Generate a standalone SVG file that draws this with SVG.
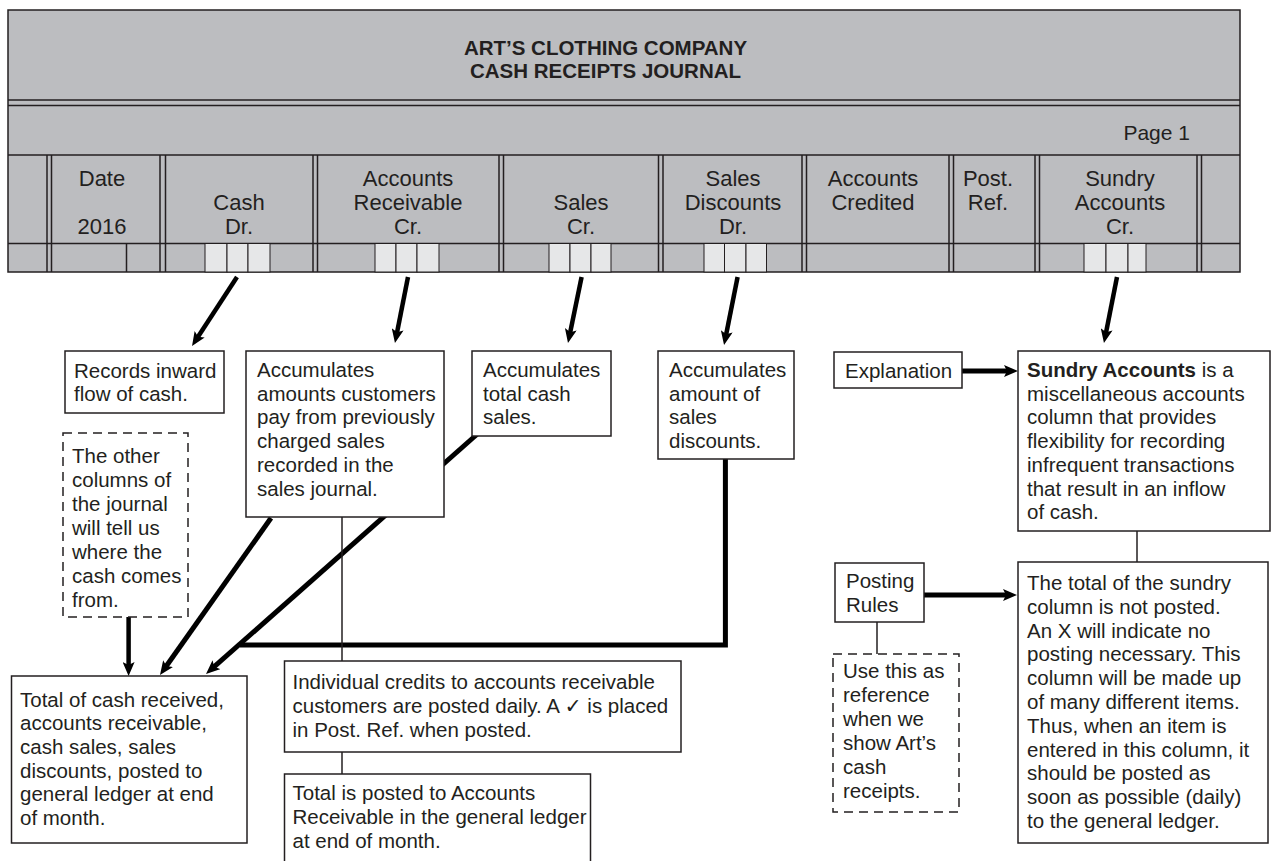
<svg xmlns="http://www.w3.org/2000/svg" width="1278" height="861" viewBox="0 0 1278 861">
<style>
text{font-family:"Liberation Sans",Arial,sans-serif;fill:#231f20}
.t{font-size:20.5px}
.h{font-size:22px;text-anchor:middle}
.ttl{font-size:20.5px;font-weight:bold;text-anchor:middle}
.box{fill:#fff;stroke:#231f20;stroke-width:1.5}
.dash{fill:#fff;stroke:#231f20;stroke-width:1.5;stroke-dasharray:9 6}
.hl{stroke:#231f20;stroke-width:1.5;fill:none}
.cell{fill:#e6e7e8;stroke:#231f20;stroke-width:1}
.arr{stroke:#000;stroke-width:4.5;fill:none;marker-end:url(#ah)}
.thick{stroke:#000;stroke-width:5;fill:none}
.thin{stroke:#231f20;stroke-width:1.5;fill:none}
</style>
<defs>
<marker id="ah" viewBox="0 0 14 12" markerWidth="14" markerHeight="12" refX="6" refY="6" orient="auto" markerUnits="userSpaceOnUse">
<path d="M0,0 L14,6 L0,12 L3,6 Z" fill="#000"/>
</marker>
</defs>
<rect width="1278" height="861" fill="#fff"/>

<g id="journal-header">
<rect x="8" y="10" width="1232" height="262" fill="#bcbdc0" stroke="#231f20" stroke-width="1.5"/>
<text class="ttl" x="605.5" y="55">ART’S CLOTHING COMPANY</text>
<text class="ttl" x="605.5" y="78">CASH RECEIPTS JOURNAL</text>
<path class="hl" d="M8,100H1240M8,105.5H1240M8,155H1240M8,243.5H1240"/>
<text class="t" x="1190" y="140" style="font-size:21px;text-anchor:end">Page 1</text>
<path class="hl" d="M47,155V272M51.5,155V272M160,155V272M165.5,155V272M313,155V272M317.5,155V272M499,155V272M503.5,155V272M658.5,155V272M663,155V272M802,155V272M806.5,155V272M949,155V272M953.5,155V272M1035,155V272M1039.5,155V272M1197,155V272M1201.5,155V272M126.5,243.5V272"/>
<text class="h" x="102" y="186">Date</text>
<text class="h" x="102" y="234">2016</text>
<text class="h" x="239" y="210">Cash</text>
<text class="h" x="239" y="234">Dr.</text>
<text class="h" x="408" y="186">Accounts</text>
<text class="h" x="408" y="210">Receivable</text>
<text class="h" x="408" y="234">Cr.</text>
<text class="h" x="581" y="210">Sales</text>
<text class="h" x="581" y="234">Cr.</text>
<text class="h" x="733" y="186">Sales</text>
<text class="h" x="733" y="210">Discounts</text>
<text class="h" x="733" y="234">Dr.</text>
<text class="h" x="873" y="186">Accounts</text>
<text class="h" x="873" y="210">Credited</text>
<text class="h" x="988" y="186">Post.</text>
<text class="h" x="988" y="210">Ref.</text>
<text class="h" x="1120" y="186">Sundry</text>
<text class="h" x="1120" y="210">Accounts</text>
<text class="h" x="1120" y="234">Cr.</text>
<g id="cells">
<rect class="cell" x="205" y="243.5" width="22" height="28.5"/><rect class="cell" x="227" y="243.5" width="21" height="28.5"/><rect class="cell" x="248" y="243.5" width="22" height="28.5"/>
<rect class="cell" x="375" y="243.5" width="21" height="28.5"/><rect class="cell" x="396" y="243.5" width="21" height="28.5"/><rect class="cell" x="417" y="243.5" width="22" height="28.5"/>
<rect class="cell" x="549" y="243.5" width="21" height="28.5"/><rect class="cell" x="570" y="243.5" width="21" height="28.5"/><rect class="cell" x="591" y="243.5" width="20" height="28.5"/>
<rect class="cell" x="704" y="243.5" width="20.5" height="28.5"/><rect class="cell" x="724.5" y="243.5" width="21.5" height="28.5"/><rect class="cell" x="746" y="243.5" width="20.5" height="28.5"/>
<rect class="cell" x="1084" y="243.5" width="22" height="28.5"/><rect class="cell" x="1106" y="243.5" width="22" height="28.5"/><rect class="cell" x="1128" y="243.5" width="18" height="28.5"/>
</g>
</g>

<g id="connectors">
<line class="arr" x1="237" y1="277" x2="196.4" y2="339.3"/>
<line class="arr" x1="408" y1="277" x2="396.5" y2="335.2"/>
<line class="arr" x1="581.6" y1="277" x2="569.6" y2="335.2"/>
<line class="arr" x1="737.6" y1="277" x2="725.6" y2="337.2"/>
<line class="arr" x1="1117" y1="277" x2="1105.5" y2="335.2"/>
<line class="arr" x1="962" y1="371" x2="1010" y2="371" style="stroke-width:5"/>
<line class="arr" x1="924" y1="595" x2="1009" y2="595" style="stroke-width:5"/>
<line class="arr" x1="128.6" y1="617" x2="128.6" y2="668"/>
<line class="arr" x1="271" y1="518" x2="164.6" y2="668.5" style="stroke-width:5"/>
<line class="arr" x1="483" y1="429" x2="212" y2="668.7" style="stroke-width:5"/>
<polyline class="thick" points="725.4,459 725.4,645 240,645"/>
<line class="thin" x1="342" y1="517" x2="342" y2="661"/>
<line class="thin" x1="342" y1="752" x2="342" y2="774"/>
<line class="thin" x1="1137" y1="531" x2="1137" y2="562"/>
<line class="thin" x1="877" y1="622" x2="877" y2="654"/>
</g>

<g id="records-box">
<rect class="box" x="65" y="351" width="159" height="62"/>
<text class="t" x="74" y="377.5">Records inward</text>
<text class="t" x="74" y="401">flow of cash.</text>
</g>

<g id="ar-box">
<rect class="box" x="246" y="351" width="198" height="166"/>
<text class="t" x="257" y="377">Accumulates</text>
<text class="t" x="257" y="400.7">amounts customers</text>
<text class="t" x="257" y="424.4">pay from previously</text>
<text class="t" x="257" y="448.1">charged sales</text>
<text class="t" x="257" y="471.8">recorded in the</text>
<text class="t" x="257" y="495.5">sales journal.</text>
</g>

<g id="sales-box">
<rect class="box" x="472" y="351" width="139" height="85"/>
<text class="t" x="483" y="377">Accumulates</text>
<text class="t" x="483" y="400.7">total cash</text>
<text class="t" x="483" y="424.4">sales.</text>
</g>

<g id="discounts-box">
<rect class="box" x="658" y="351" width="136" height="108"/>
<text class="t" x="669" y="377">Accumulates</text>
<text class="t" x="669" y="400.7">amount of</text>
<text class="t" x="669" y="424.4">sales</text>
<text class="t" x="669" y="448.1">discounts.</text>
</g>

<g id="explanation-box">
<rect class="box" x="834" y="352" width="128" height="36"/>
<text class="t" x="845" y="378">Explanation</text>
</g>

<g id="sundry-box">
<rect class="box" x="1018" y="351" width="252" height="180"/>
<text class="t" x="1027" y="377"><tspan font-weight="bold">Sundry Accounts</tspan> is a</text>
<text class="t" x="1027" y="400.7">miscellaneous accounts</text>
<text class="t" x="1027" y="424.4">column that provides</text>
<text class="t" x="1027" y="448.1">flexibility for recording</text>
<text class="t" x="1027" y="471.8">infrequent transactions</text>
<text class="t" x="1027" y="495.5">that result in an inflow</text>
<text class="t" x="1027" y="519.2">of cash.</text>
</g>

<g id="other-columns-note">
<rect class="dash" x="63" y="433" width="125" height="184"/>
<text class="t" x="72" y="463">The other</text>
<text class="t" x="72" y="487">columns of</text>
<text class="t" x="72" y="511">the journal</text>
<text class="t" x="72" y="535">will tell us</text>
<text class="t" x="72" y="559">where the</text>
<text class="t" x="72" y="583">cash comes</text>
<text class="t" x="72" y="607">from.</text>
</g>

<g id="total-box">
<rect class="box" x="11.5" y="676" width="235.5" height="167"/>
<text class="t" x="20" y="706.5">Total of cash received,</text>
<text class="t" x="20" y="730.2">accounts receivable,</text>
<text class="t" x="20" y="753.9">cash sales, sales</text>
<text class="t" x="20" y="777.6">discounts, posted to</text>
<text class="t" x="20" y="801.3">general ledger at end</text>
<text class="t" x="20" y="825">of month.</text>
</g>

<g id="individual-box">
<rect class="box" x="284.5" y="661" width="396.5" height="91"/>
<text class="t" x="292.5" y="689.3">Individual credits to accounts receivable</text>
<text class="t" x="292.5" y="713">customers are posted daily. A <tspan font-family="DejaVu Sans">✓</tspan> is placed</text>
<text class="t" x="292.5" y="736.7">in Post. Ref. when posted.</text>
</g>

<g id="ar-total-box">
<rect class="box" x="284.5" y="774" width="306" height="95"/>
<text class="t" x="292.5" y="800">Total is posted to Accounts</text>
<text class="t" x="292.5" y="824.2">Receivable in the general ledger</text>
<text class="t" x="292.5" y="848.3">at end of month.</text>
</g>

<g id="posting-rules-box">
<rect class="box" x="835" y="563" width="89" height="59"/>
<text class="t" x="846" y="588">Posting</text>
<text class="t" x="846" y="611.7">Rules</text>
</g>

<g id="reference-note">
<rect class="dash" x="833" y="654" width="126" height="158"/>
<text class="t" x="843" y="678">Use this as</text>
<text class="t" x="843" y="702">reference</text>
<text class="t" x="843" y="726">when we</text>
<text class="t" x="843" y="750">show Art’s</text>
<text class="t" x="843" y="774">cash</text>
<text class="t" x="843" y="798">receipts.</text>
</g>

<g id="sundry-total-box">
<rect class="box" x="1018" y="562" width="250" height="281"/>
<text class="t" x="1027" y="590">The total of the sundry</text>
<text class="t" x="1027" y="613.8">column is not posted.</text>
<text class="t" x="1027" y="637.6">An X will indicate no</text>
<text class="t" x="1027" y="661.4">posting necessary. This</text>
<text class="t" x="1027" y="685.2">column will be made up</text>
<text class="t" x="1027" y="709">of many different items.</text>
<text class="t" x="1027" y="732.8">Thus, when an item is</text>
<text class="t" x="1027" y="756.6">entered in this column, it</text>
<text class="t" x="1027" y="780.4">should be posted as</text>
<text class="t" x="1027" y="804.2">soon as possible (daily)</text>
<text class="t" x="1027" y="828">to the general ledger.</text>
</g>
</svg>
